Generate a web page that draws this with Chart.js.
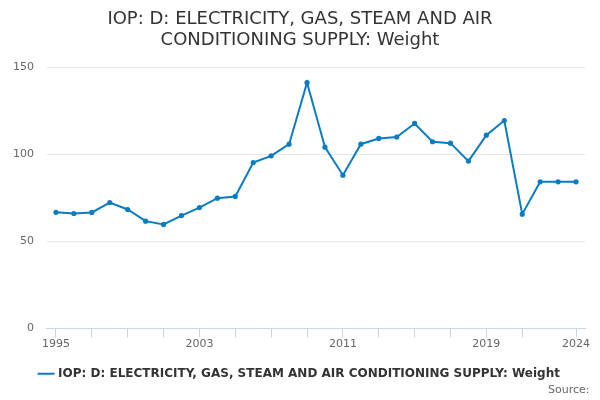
<!DOCTYPE html>
<html><head><meta charset="utf-8">
<script src="https://cdn.jsdelivr.net/npm/chart.js@4"></script>
<style>html,body{margin:0;padding:0;background:#fff}#w{width:600px;height:400px}</style>
</head><body><div id="w"><canvas id="c"></canvas></div>
<script>
const years = ['1995','1996','1997','1998','1999','2000','2001','2002','2003','2004','2005','2006','2007','2008','2009','2010','2011','2012','2013','2014','2015','2016','2017','2018','2019','2020','2021','2022','2023','2024'];
const weights = [66.8,66.1,66.7,72.4,68.4,61.7,59.8,64.9,69.5,74.9,75.9,95.4,99.2,105.9,141.2,104.2,88.1,105.9,109.2,110.0,117.8,107.3,106.5,96.2,111.1,119.5,65.7,84.3,84.3,84.3];
const shownLabels = ['1995','2003','2011','2019','2024'];
const tickMarkYears = ['1995','1997','1999','2001','2003','2005','2007','2009','2011','2013','2015','2017','2019','2021','2024'];
const seriesName = 'IOP: D: ELECTRICITY, GAS, STEAM AND AIR CONDITIONING SUPPLY: Weight';
const titleLines = ['IOP: D: ELECTRICITY, GAS, STEAM AND AIR', 'CONDITIONING SUPPLY: Weight'];

Chart.defaults.font.family = 'DejaVu Sans, sans-serif';
new Chart(document.getElementById('c'), {
  type: 'line',
  data: { labels: years, datasets: [{
    label: seriesName, data: weights,
    borderColor: '#0a7cc1', backgroundColor: '#0a7cc1',
    borderWidth: 2, pointRadius: 1.6, pointHoverRadius: 3, tension: 0
  }]},
  options: {
    responsive: true, maintainAspectRatio: false, animation: false,
    layout: { padding: 0 },
    plugins: {
      title: { display: true, text: titleLines, color: '#333', font: { size: 18, weight: 'normal', lineHeight: 1.15 }, padding: { top: 9, bottom: 17 } },
      subtitle: { display: true, text: 'Source:   ', position: 'bottom', align: 'end', color: '#666', font: { size: 11 }, padding: { top: -6, bottom: 3 } },
      legend: { position: 'bottom', labels: { usePointStyle: true, pointStyle: 'line', color: '#333', font: { size: 12, weight: 'bold' }, padding: 17 } },
      tooltip: { enabled: false }
    },
    scales: {
      x: {
        offset: true,
        grid: { drawOnChartArea: false, drawTicks: true, tickLength: 9,
          color: (ctx) => (ctx.tick && tickMarkYears.includes(years[ctx.index])) ? '#ccd6eb' : 'rgba(0,0,0,0)' },
        border: { color: '#ccd6eb' },
        ticks: { autoSkip: false, maxRotation: 0, color: '#666', font: { size: 11 }, padding: 0,
          callback: function(v, i) { return shownLabels.includes(years[i]) ? years[i] : ''; } }
      },
      y: {
        min: 0, max: 150,
        grid: { color: '#e6e6e6', drawTicks: false },
        border: { display: false },
        ticks: { stepSize: 50, color: '#666', font: { size: 11 }, padding: 13 }
      },
      yRight: {
        position: 'right', display: true,
        grid: { display: false, drawTicks: false },
        border: { display: false },
        ticks: { display: false },
        afterFit: (s) => { s.width = 15; }
      }
    }
  }
});
</script></body></html>
